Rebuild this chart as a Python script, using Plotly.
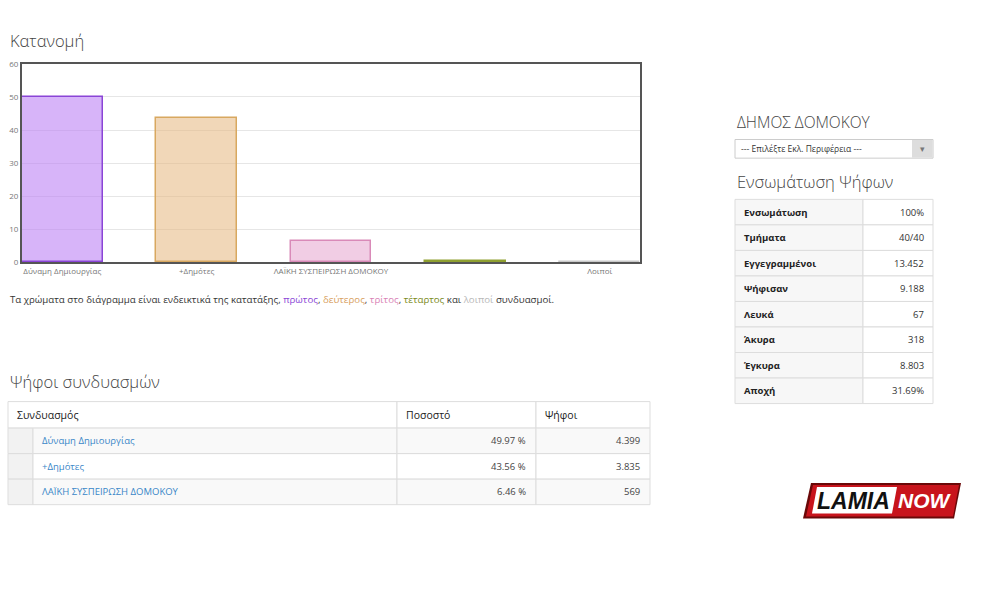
import plotly.graph_objects as go

W, H = 994, 599

# ---- data ----
parties = ["Δύναμη Δημιουργίας", "+Δημότες", "ΛΑΪΚΗ ΣΥΣΠΕΙΡΩΣΗ ΔΟΜΟΚΟΥ", "", "Λοιποί"]
pct = [49.97, 43.56, 6.46, 0.3, 0.2]
bar_fill = ["rgba(186,125,245,0.58)", "rgba(230,182,125,0.55)", "rgba(225,145,195,0.45)",
            "rgba(150,170,60,0.5)", "rgba(200,200,200,0.5)"]
bar_line = ["#8a45d6", "#d8a860", "#d98ab8", "#8fa030", "#c8c8c8"]
y_ticks = [0, 10, 20, 30, 40, 50, 60]

table_header = ["Συνδυασμός", "Ποσοστό", "Ψήφοι"]
table_names = ["Δύναμη Δημιουργίας", "+Δημότες", "ΛΑΪΚΗ ΣΥΣΠΕΙΡΩΣΗ ΔΟΜΟΚΟΥ"]
table_pct = ["49.97 %", "43.56 %", "6.46 %"]
table_votes = ["4.399", "3.835", "569"]

stat_labels = ["Ενσωμάτωση", "Τμήματα", "Εγγεγραμμένοι", "Ψήφισαν", "Λευκά", "Άκυρα", "Έγκυρα", "Αποχή"]
stat_values = ["100%", "40/40", "13.452", "9.188", "67", "318", "8.803", "31.69%"]


def px(x):
    return x / W


def py(y):
    return 1 - y / H


FONT = "Open Sans"
fig = go.Figure()

# ---- bar chart ----
fig.add_trace(go.Bar(
    x=list(range(len(parties))), y=pct, width=0.6,
    marker=dict(color=bar_fill, line=dict(color=bar_line, width=1.5)),
    hoverinfo="skip", showlegend=False,
))

fig.update_layout(
    width=W, height=H,
    margin=dict(l=0, r=0, t=0, b=0),
    paper_bgcolor="white", plot_bgcolor="white",
    font=dict(family=FONT, color="#333"),
    xaxis=dict(domain=[px(22), px(640)], range=[-0.3, 4.3],
               tickvals=list(range(len(parties))), ticktext=parties,
               tickfont=dict(size=8, color="#777"), ticks="",
               showgrid=False, zeroline=False,
               showline=True, mirror=True, linecolor="#555", linewidth=2,
               fixedrange=True),
    yaxis=dict(domain=[py(261), py(59)], range=[0, 60],
               tickvals=y_ticks, tickfont=dict(size=8, color="#777"),
               ticks="", showgrid=True, gridcolor="#e6e6e6", zeroline=False,
               showline=True, mirror=True, linecolor="#555", linewidth=2,
               fixedrange=True),
    bargap=0,
)

ann = []
shapes = []


def text(x, y, s, size, color="#444", xanchor="left", family=FONT, weight=None):
    f = dict(family=family, size=size, color=color)
    if weight:
        f["weight"] = weight
    ann.append(dict(x=px(x), y=py(y), xref="paper", yref="paper", text=s, showarrow=False,
                    xanchor=xanchor, yanchor="middle", font=f))


def rect(x0, y0, x1, y1, fill, line="#dddddd", lw=1, layer="below"):
    shapes.append(dict(type="rect", xref="paper", yref="paper",
                       x0=px(x0), x1=px(x1), y0=py(y1), y1=py(y0),
                       fillcolor=fill, line=dict(color=line, width=lw), layer=layer))


# ---- left table (cells from data lists) ----
cols = [8, 33, 397, 536, 650]
top, hdr_h, row_h = 403, 27, 26
rect(cols[0], top, cols[2], top + hdr_h, "white")
rect(cols[2], top, cols[3], top + hdr_h, "white")
rect(cols[3], top, cols[4], top + hdr_h, "white")
text(14.5, top + hdr_h / 2, table_header[0], 10.5, "#222")
text(cols[2] + 6.5, top + hdr_h / 2, table_header[1], 10.5, "#222")
text(cols[3] + 6.5, top + hdr_h / 2, table_header[2], 10.5, "#222")
for i, (n, p, v) in enumerate(zip(table_names, table_pct, table_votes)):
    y0 = top + hdr_h + i * row_h
    bg = "#f9f9f9" if i % 2 == 0 else "#ffffff"
    rect(cols[0], y0, cols[1], y0 + row_h, "#f2f2f2")
    rect(cols[1], y0, cols[2], y0 + row_h, bg)
    rect(cols[2], y0, cols[3], y0 + row_h, bg)
    rect(cols[3], y0, cols[4], y0 + row_h, bg)
    yc = y0 + row_h / 2
    text(cols[1] + 6.5, yc, n, 9.5, "#3a87c8")
    text(cols[3] - 8, yc, p, 9.5, "#444", xanchor="right")
    text(cols[4] - 8, yc, v, 9.5, "#444", xanchor="right")

# ---- right table ----
rcols = [735, 863, 933]
rtop = 197
for i, (lab, val) in enumerate(zip(stat_labels, stat_values)):
    y0 = rtop + i * row_h
    rect(rcols[0], y0, rcols[1], y0 + row_h, "#f7f7f7")
    rect(rcols[1], y0, rcols[2], y0 + row_h, "#ffffff")
    yc = y0 + row_h / 2
    text(rcols[0] + 7, yc, "<b>%s</b>" % lab, 9.5, "#222")
    text(rcols[2] - 7, yc, val, 9.5, "#333", xanchor="right")

# ---- headings and texts ----
text(7.5, 35.5, "Κατανομή", 16.5, weight=300)
text(7.5, 383, "Ψήφοι συνδυασμών", 16.5, weight=300)
text(734.5, 118, "ΔΗΜΟΣ ΔΟΜΟΚΟΥ", 15.5, weight=300)
text(734.5, 179, "Ενσωμάτωση Ψήφων", 16.5, weight=300)

# dropdown
rect(735, 136, 933, 155, "white", "#cccccc")
rect(912, 136.5, 932.5, 154.5, "#dddddd", "#dddddd", 0)
text(739, 145.5, "--- Επιλέξτε Εκλ. Περιφέρεια ---", 8.5, "#333")
text(922.5, 145, "▾", 9, "#777", xanchor="center")

note = ("Τα χρώματα στο διάγραμμα είναι ενδεικτικά της κατατάξης, "
        "<span style='color:#8a45d6'>πρώτος</span>, "
        "<span style='color:#d8a060'>δεύτερος</span>, "
        "<span style='color:#d97fb5'>τρίτος</span>, "
        "<span style='color:#7a8a20'>τέταρτος</span> και "
        "<span style='color:#b8b8b8'>λοιποί</span> συνδυασμοί.")
text(8, 299, note, 9.7, "#333")


# ---- logo ----
def poly(pts):
    return "M " + " L ".join("%f,%f" % (px(a), py(b)) for a, b in pts) + " Z"


for pts, col in [([(811, 486), (961, 486), (954, 522), (803, 522)], "#6a0808"),
                 ([(813, 488), (959, 488), (953, 520), (806, 520)], "#c8141c"),
                 ([(817, 490), (897, 490), (892, 517), (812, 517)], "#ffffff")]:
    shapes.append(dict(type="path", xref="paper", yref="paper", path=poly(pts),
                       fillcolor=col, line=dict(width=0), layer="above"))
text(853.5, 504, "<b><i>LAMIA</i></b>", 23, "#111", xanchor="center", family="Liberation Sans")
text(925, 504, "<b><i>NOW</i></b>", 21, "#ffffff", xanchor="center", family="Liberation Sans")

fig.update_layout(annotations=ann, shapes=shapes)

fig.write_html("out.html")
